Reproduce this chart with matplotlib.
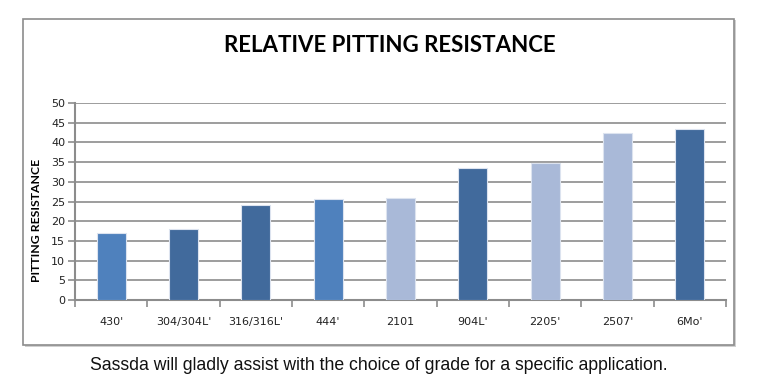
import matplotlib
matplotlib.use("Agg")
import matplotlib.pyplot as plt
from matplotlib.patches import Rectangle

categories = ["430'", "304/304L'", "316/316L'", "444'", "2101", "904L'", "2205'", "2507'", "6Mo'"]
values = [17, 18, 24.1, 25.7, 26, 33.5, 34.8, 42.5, 43.4]
colors = ["#4F81BD", "#416A9C", "#416A9C", "#4F81BD", "#A9B9D8", "#416A9C", "#A9B9D8", "#A9B9D8", "#416A9C"]
yticks = [0, 5, 10, 15, 20, 25, 30, 35, 40, 45, 50]
title = "RELATIVE PITTING RESISTANCE"
ylabel = "PITTING RESISTANCE"
caption = "Sassda will gladly assist with the choice of grade for a specific application."

W, H = 761, 386
fig = plt.figure(figsize=(W / 100, H / 100), dpi=100)
fig.patch.set_facecolor("white")

# outer frame with shadow
fig.patches.append(Rectangle((25 / W, 1 - 347 / H), 711 / W, 327 / H, transform=fig.transFigure,
                             facecolor="#D0D0D0", edgecolor="none", zorder=-2))
fig.patches.append(Rectangle((23 / W, 1 - 345 / H), 711 / W, 326 / H, transform=fig.transFigure,
                             facecolor="white", edgecolor="#8C8C8C", linewidth=1.2, zorder=-1))

ax = fig.add_axes([75 / W, 1 - 300 / H, (726 - 75) / W, (300 - 103) / H])
ax.set_zorder(1)
ax.set_facecolor("none")
x = range(len(categories))
ax.bar(x, values, width=0.4, color=colors, edgecolor="#DCE3EF", linewidth=0.8, zorder=3)
ax.set_xlim(-0.5, len(categories) - 0.5)
ax.set_ylim(0, 50)
ax.set_yticks(yticks)
ax.set_yticklabels([str(v) for v in yticks], fontsize=8, family="DejaVu Sans", color="#222222")
ax.yaxis.grid(True, color="#8C8C8C", linewidth=1.2, zorder=0)
ax.set_axisbelow(True)
ax.tick_params(axis="y", length=5, width=1.2, color="#8C8C8C", pad=2)
ax.set_xticks([i - 0.5 for i in range(len(categories) + 1)], minor=False)
ax.set_xticklabels([])
ax.set_xticks(list(x), minor=True)
ax.set_xticklabels(categories, minor=True, fontsize=8, family="DejaVu Sans", color="#222222")
ax.tick_params(axis="x", which="major", length=5, width=1.2, color="#8C8C8C", direction="out")
ax.tick_params(axis="x", which="minor", length=0, pad=12.5)
for s in ["top", "right"]:
    ax.spines[s].set_visible(False)
for s in ["left", "bottom"]:
    ax.spines[s].set_color("#8C8C8C")
    ax.spines[s].set_linewidth(1.5)

fig.text(390 / W, 1 - 45 / H, title, ha="center", va="center", fontsize=16,
         fontweight="bold", family="Lato")
fig.text(37 / W, 1 - 220 / H, ylabel, ha="center", va="center", rotation=90,
         fontsize=8.8, fontweight="bold", family="Lato")
fig.text(379 / W, 1 - 366 / H, caption, ha="center", va="center", fontsize=12.7,
         family="Liberation Sans", color="#111111")

fig.savefig("out.png", dpi=100, facecolor="white")
